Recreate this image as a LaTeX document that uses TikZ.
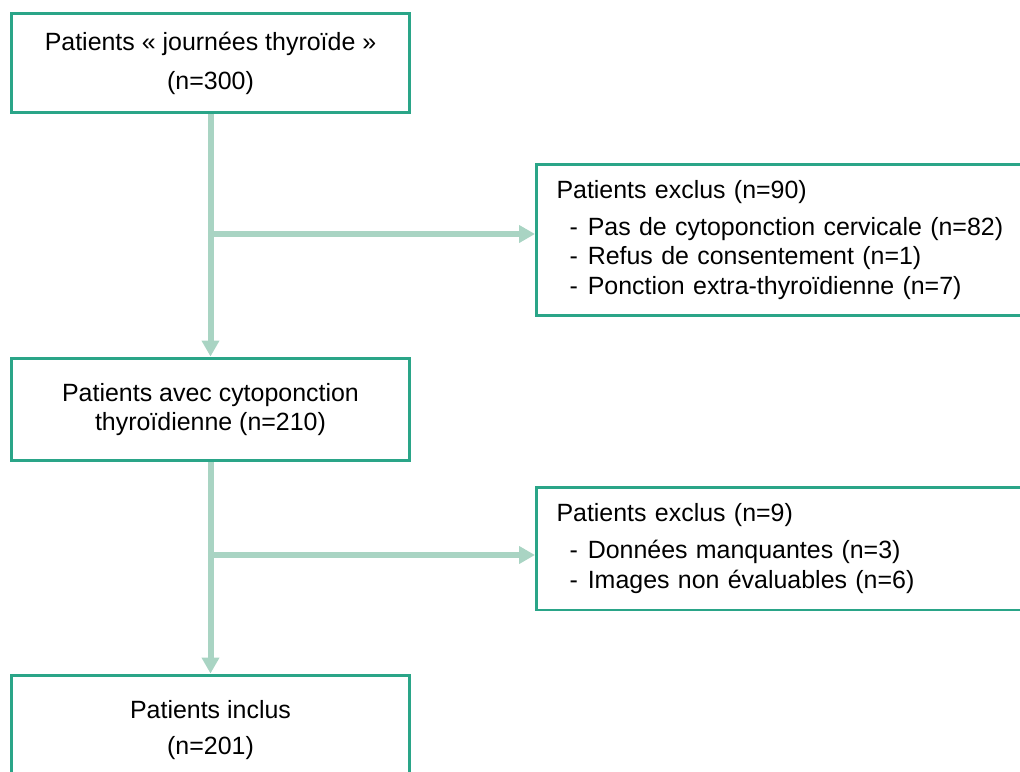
\documentclass[tikz,border=0pt]{standalone}
\usepackage{fontspec}
\setmainfont{Liberation Sans}
\usetikzlibrary{arrows.meta}
\usepackage{xcolor}
\definecolor{cbox}{HTML}{2aa588}
\definecolor{cflow}{HTML}{a9d4c3}
\tikzset{
	every picture/.style={font=\fontsize{14.2}{17}\selectfont,},
	lw/.style={line width=0.06cm,},
	%%%
	box/.style={draw=cbox, lw, fill=white, inner sep=0pt, align=center,
		minimum width=7.98cm},
	exclbox/.style={draw=cbox, lw, fill=white, inner xsep=0.4cm, inner ysep=0pt,
		align=left, text width=9.2cm, minimum width=10cm},
	flow/.style={cflow, line width=0.12cm, -{Triangle[length=0.32cm, width=0.34cm]}},
}
\gdef\itm#1{\hspace*{0.26cm}-\hspace{0.2cm}#1}

\begin{document}
\begin{tikzpicture}[x=0.02cm, y=-0.02cm]

	\useasboundingbox (0,0) rectangle (1020,771);

	%%% Main column

	\node[box, minimum height=2cm] (pop) at (210.5,63)
		{Patients « journées thyroïde »\\[0.18cm](n=300)};
	\node[box, minimum height=2.06cm] (ponct) at (210.5,409.5)
		{Patients avec cytoponction\\thyroïdienne (n=210)};
	\node[box, minimum height=2.2cm] (incl) at (210.5,730)
		{Patients inclus\\[0.14cm](n=201)};

	%%% Exclusions

	\node[exclbox, minimum height=3.04cm, anchor=west] (excl1) at (535,240)
		{Patients exclus (n=90)\\[0.14cm]
		\itm{Pas de cytoponction cervicale (n=82)}\\
		\itm{Refus de consentement (n=1)}\\
		\itm{Ponction extra-thyroïdienne (n=7)}};
	\node[exclbox, minimum height=2.46cm, anchor=west] (excl2) at (535,548.5)
		{Patients exclus (n=9)\\[0.14cm]
		\itm{Données manquantes (n=3)}\\
		\itm{Images non évaluables (n=6)}};

	%%% Flow

	\draw[flow] (pop.south) -- (ponct.north);
	\draw[flow] (pop.south |- 0,234) -- (excl1.west |- 0,234);
	\draw[flow] (ponct.south) -- (incl.north);
	\draw[flow] (ponct.south |- 0,555) -- (excl2.west |- 0,555);

\end{tikzpicture}
\end{document}
